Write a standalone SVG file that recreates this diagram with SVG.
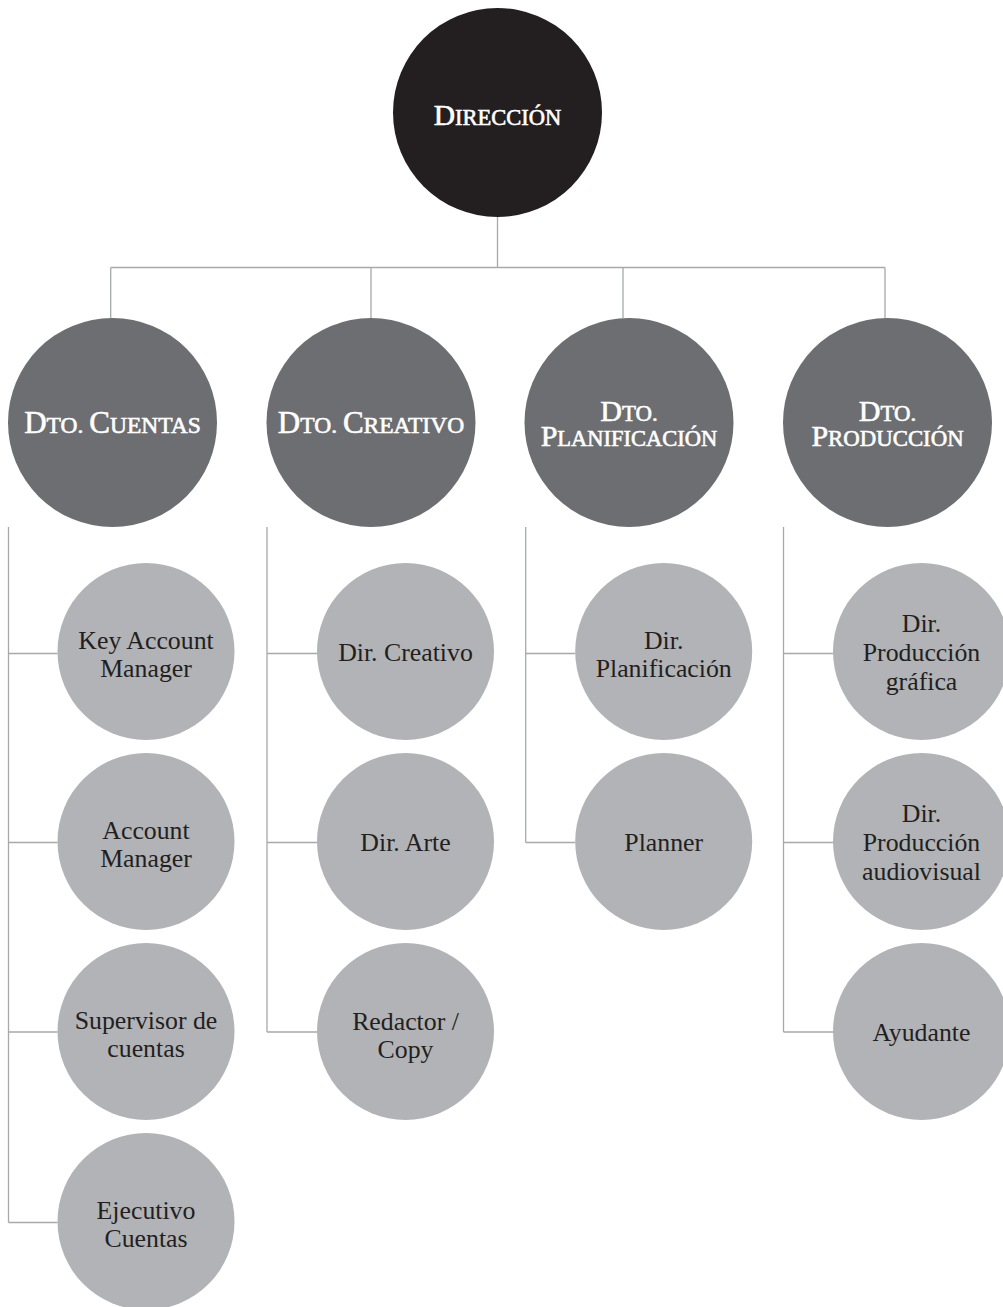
<svg xmlns="http://www.w3.org/2000/svg" width="1003" height="1307" viewBox="0 0 1003 1307">
  <style>
    .conn { stroke: #a7a9ac; stroke-width: 1.3; fill: none; }
    .top { fill: #231f20; }
    .dept { fill: #6d6e71; }
    .role { fill: #b1b3b6; }
    .hd { font-family: "Liberation Serif", "Times New Roman", serif; fill: #ffffff; stroke: #ffffff; stroke-width: 0.6; text-anchor: middle; }
    .cap { font-size: 31px; }
    .sc { font-size: 23.5px; }
    .cap2 { font-size: 30px; }
    .sc2 { font-size: 22.8px; }
    .lbl { font-family: "Liberation Serif", "Times New Roman", serif; font-size: 25.8px; fill: #231f20; text-anchor: middle; }
  </style>

  <!-- connectors -->
  <g id="connectors" class="conn">
    <path d="M497.5 217 V267.5"/>
    <path d="M110.7 267.5 H885"/>
    <path d="M110.7 267.5 V318"/>
    <path d="M371 267.5 V318"/>
    <path d="M623 267.5 V318"/>
    <path d="M885 267.5 V318"/>
    <!-- Cuentas branch -->
    <path d="M8.5 527 V1222.5"/>
    <path d="M8.5 653.5 H57.5"/>
    <path d="M8.5 842.5 H57.5"/>
    <path d="M8.5 1032 H57.5"/>
    <path d="M8.5 1222.5 H57.5"/>
    <!-- Creativo branch -->
    <path d="M267 527 V1032"/>
    <path d="M267 653.5 H317"/>
    <path d="M267 842.5 H317"/>
    <path d="M267 1032 H317"/>
    <!-- Planificacion branch -->
    <path d="M525.7 527 V842.5"/>
    <path d="M525.7 653.5 H575.2"/>
    <path d="M525.7 842.5 H575.2"/>
    <!-- Produccion branch -->
    <path d="M783.5 527 V1032"/>
    <path d="M783.5 653.5 H833"/>
    <path d="M783.5 842.5 H833"/>
    <path d="M783.5 1032 H833"/>
  </g>

  <!-- top -->
  <g id="direccion">
    <circle class="top" cx="497.5" cy="112.5" r="104.5"/>
    <text class="hd" x="497.5" y="124.5"><tspan style="font-size:29.5px">D</tspan><tspan style="font-size:22.5px">IRECCIÓN</tspan></text>
  </g>

  <!-- departments -->
  <g id="dto-cuentas">
    <circle class="dept" cx="112.5" cy="422.5" r="104.5"/>
    <text class="hd" x="112.5" y="433"><tspan class="cap">D</tspan><tspan class="sc">TO. </tspan><tspan class="cap">C</tspan><tspan class="sc">UENTAS</tspan></text>
  </g>
  <g id="dto-creativo">
    <circle class="dept" cx="371" cy="422.5" r="104.5"/>
    <text class="hd" x="371" y="433"><tspan class="cap">D</tspan><tspan class="sc">TO. </tspan><tspan class="cap">C</tspan><tspan class="sc">REATIVO</tspan></text>
  </g>
  <g id="dto-planificacion">
    <circle class="dept" cx="629" cy="422.5" r="104.5"/>
    <text class="hd" x="629" y="421"><tspan class="cap2">D</tspan><tspan class="sc2">TO.</tspan><tspan x="629" y="445.5" class="cap2">P</tspan><tspan style="font-size:22.5px">LANIFICACIÓN</tspan></text>
  </g>
  <g id="dto-produccion">
    <circle class="dept" cx="887.5" cy="422.5" r="104.5"/>
    <text class="hd" x="887.5" y="421"><tspan class="cap2">D</tspan><tspan class="sc2">TO.</tspan><tspan x="887.5" y="445.5" class="cap2">P</tspan><tspan class="sc2">RODUCCIÓN</tspan></text>
  </g>

  <!-- Cuentas roles -->
  <g id="key-account-manager">
    <circle class="role" cx="146" cy="651.5" r="88.5"/>
    <text class="lbl" x="146" y="648.5">Key Account</text>
    <text class="lbl" x="146" y="677">Manager</text>
  </g>
  <g id="account-manager">
    <circle class="role" cx="146" cy="841.5" r="88.5"/>
    <text class="lbl" x="146" y="838.5">Account</text>
    <text class="lbl" x="146" y="867">Manager</text>
  </g>
  <g id="supervisor-cuentas">
    <circle class="role" cx="146" cy="1031.5" r="88.5"/>
    <text class="lbl" x="146" y="1028.5">Supervisor de</text>
    <text class="lbl" x="146" y="1057">cuentas</text>
  </g>
  <g id="ejecutivo-cuentas">
    <circle class="role" cx="146" cy="1221.5" r="88.5"/>
    <text class="lbl" x="146" y="1218.5">Ejecutivo</text>
    <text class="lbl" x="146" y="1247">Cuentas</text>
  </g>

  <!-- Creativo roles -->
  <g id="dir-creativo">
    <circle class="role" cx="405.5" cy="651.5" r="88.5"/>
    <text class="lbl" x="405.5" y="661">Dir. Creativo</text>
  </g>
  <g id="dir-arte">
    <circle class="role" cx="405.5" cy="841.5" r="88.5"/>
    <text class="lbl" x="405.5" y="851">Dir. Arte</text>
  </g>
  <g id="redactor-copy">
    <circle class="role" cx="405.5" cy="1031.5" r="88.5"/>
    <text class="lbl" x="405.5" y="1029.5">Redactor /</text>
    <text class="lbl" x="405.5" y="1058">Copy</text>
  </g>

  <!-- Planificacion roles -->
  <g id="dir-planificacion">
    <circle class="role" cx="663.7" cy="651.5" r="88.5"/>
    <text class="lbl" x="663.7" y="648.5">Dir.</text>
    <text class="lbl" x="663.7" y="677">Planificación</text>
  </g>
  <g id="planner">
    <circle class="role" cx="663.7" cy="841.5" r="88.5"/>
    <text class="lbl" x="663.7" y="851">Planner</text>
  </g>

  <!-- Produccion roles -->
  <g id="dir-produccion-grafica">
    <circle class="role" cx="921.5" cy="651.5" r="88.5"/>
    <text class="lbl" x="921.5" y="632">Dir.</text>
    <text class="lbl" x="921.5" y="661">Producción</text>
    <text class="lbl" x="921.5" y="690">gráfica</text>
  </g>
  <g id="dir-produccion-audiovisual">
    <circle class="role" cx="921.5" cy="841.5" r="88.5"/>
    <text class="lbl" x="921.5" y="822">Dir.</text>
    <text class="lbl" x="921.5" y="851">Producción</text>
    <text class="lbl" x="921.5" y="880">audiovisual</text>
  </g>
  <g id="ayudante">
    <circle class="role" cx="921.5" cy="1031.5" r="88.5"/>
    <text class="lbl" x="921.5" y="1041">Ayudante</text>
  </g>
</svg>
